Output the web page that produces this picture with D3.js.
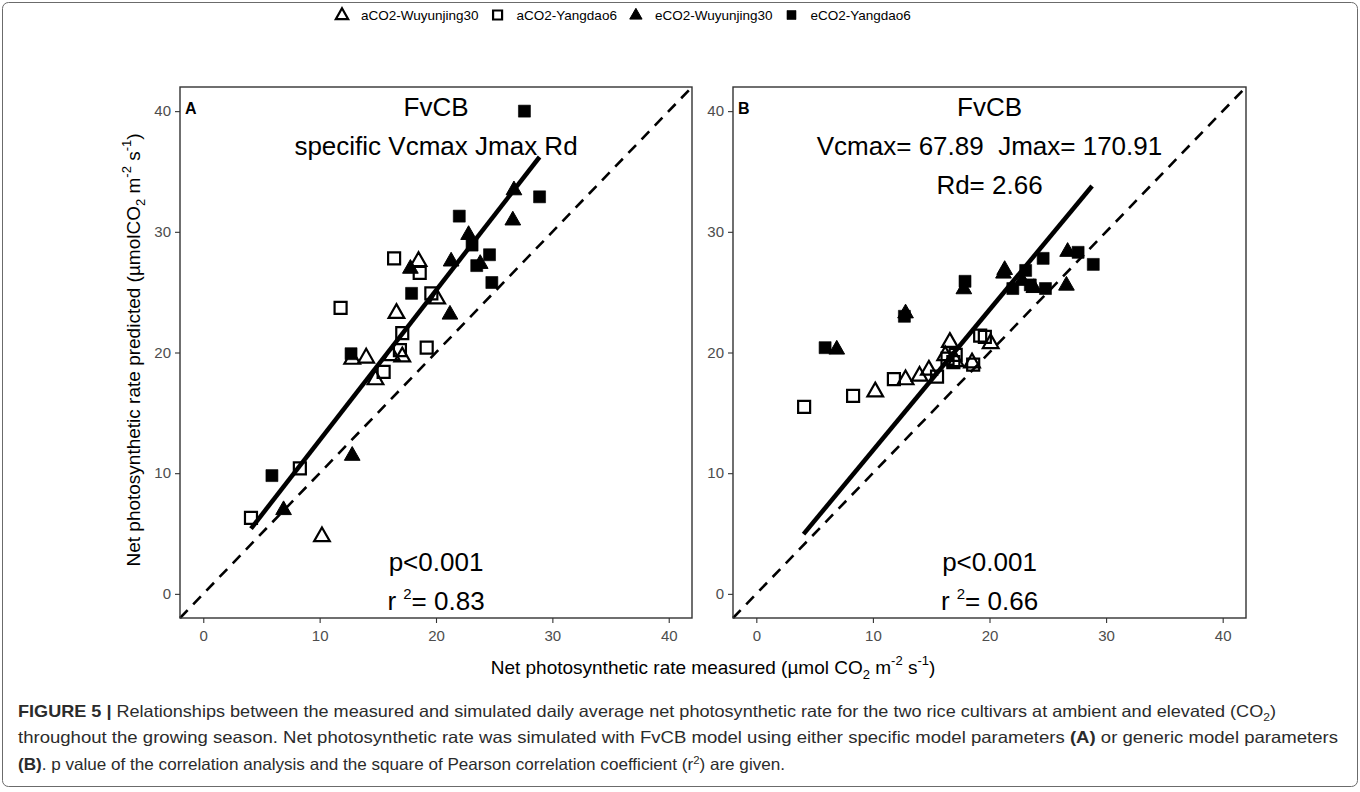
<!DOCTYPE html>
<html><head><meta charset="utf-8">
<script src="https://cdn.jsdelivr.net/npm/d3@7"></script>
<style>
body{margin:0;background:#fff}
svg{display:block}
text{font-family:"Liberation Sans",Arial,Helvetica,sans-serif}
</style>
</head><body>
<svg id="chart" width="1360" height="792"></svg>
<script>
// ---------------- data ----------------
const seriesNames = ["aCO2-Wuyunjing30", "aCO2-Yangdao6", "eCO2-Wuyunjing30", "eCO2-Yangdao6"];
const tickValues = [0, 10, 20, 30, 40];
const axisDomain = [-2, 42];

// measured net photosynthetic rate (x), same in both panels
const measuredAW = [18.5, 16.6, 20.1, 17.1, 16.2, 12.8, 14.0, 14.8, 10.2];
const measuredAY = [16.4, 18.6, 11.8, 19.6, 17.1, 16.9, 19.2, 15.5, 8.3, 4.1];
const measuredEW = [26.7, 26.6, 22.8, 21.3, 17.8, 23.8, 21.2, 12.8, 6.9];
const measuredEY = [27.6, 28.9, 22.0, 23.1, 24.6, 23.5, 24.8, 17.9, 12.7, 5.9];

// predicted, panel A (specific parameters)
const predictedA_AW = [27.6, 23.3, 24.5, 19.7, 19.8, 19.5, 19.6, 17.8, 4.8];
const predictedA_AY = [27.8, 26.6, 23.7, 24.9, 21.6, 20.2, 20.4, 18.4, 10.4, 6.3];
const predictedA_EW = [33.5, 31.0, 29.8, 27.6, 27.0, 27.4, 23.2, 11.5, 7.0];
const predictedA_EY = [40.0, 32.9, 31.3, 28.9, 28.1, 27.2, 25.8, 24.9, 19.9, 9.8];

// predicted, panel B (generic parameters)
const predictedB_AW = [19.2, 20.9, 20.8, 19.3, 19.8, 17.8, 18.1, 18.6, 16.8];
const predictedB_AY = [19.5, 19.0, 17.8, 21.3, 19.8, 19.2, 21.4, 18.0, 16.4, 15.5];
const predictedB_EW = [28.4, 25.6, 26.0, 26.9, 25.3, 25.4, 26.6, 23.3, 20.3];
const predictedB_EY = [28.3, 27.3, 25.3, 26.8, 27.8, 25.6, 25.3, 25.9, 23.0, 20.4];

// regression line end points
const fitA_x = [4.1, 28.9], fitA_y = [5.4, 36.2];
const fitB_x = [4.05, 28.8], fitB_y = [4.95, 33.8];

// annotation texts
const panelLabels = ["A", "B"];
const annotA = ["FvCB", "specific Vcmax Jmax Rd"];
const annotB = ["FvCB", "Vcmax= 67.89  Jmax= 170.91", "Rd= 2.66"];
const r2Values = ["0.83", "0.66"];

// ---------------- drawing ----------------
const svg = d3.select("#chart");
const FONT = '"Liberation Sans",Arial,Helvetica,sans-serif';

// outer frame
svg.append("rect").attr("x", 2.5).attr("y", 2.5).attr("width", 1355).attr("height", 784)
  .attr("rx", 6).attr("fill", "none").attr("stroke", "#6b6b6b").attr("stroke-width", 1);

const shapes = [
  {type: "tri", filled: false},
  {type: "sq", filled: false},
  {type: "tri", filled: true},
  {type: "sq", filled: true}
];

function shapePath(type, s) {
  if (type === "sq") {
    const h = s / 2;
    return `M${-h},${-h}H${h}V${h}H${-h}Z`;
  }
  const w = s * 1.12, h = s * 0.98;
  return `M0,${-h * 0.62}L${w / 2},${h * 0.38}L${-w / 2},${h * 0.38}Z`;
}

function drawMarker(g, shape, x, y, s) {
  g.append("path")
    .attr("d", shapePath(shape.type, s))
    .attr("transform", `translate(${x},${y})`)
    .attr("fill", shape.filled ? "#000" : "none")
    .attr("stroke", "#000")
    .attr("stroke-width", shape.filled ? (shape.type === "tri" ? 1 : 0.6) : 2.2)
    .attr("stroke-linejoin", "miter");
}

// legend
const legendG = svg.append("g");
let lx = 342;
seriesNames.forEach((name, i) => {
  drawMarker(legendG, shapes[i], lx, 15, shapes[i].type === "sq" ? 9 : 11);
  const t = legendG.append("text").attr("x", lx + 19).attr("y", 20)
    .attr("font-size", 13.5).attr("fill", "#000").text(name);
  lx += 19 + t.node().getComputedTextLength() + 19;
});

const panels = [
  {x0: 180, x1: 692, pred: [predictedA_AW, predictedA_AY, predictedA_EW, predictedA_EY],
   fx: fitA_x, fy: fitA_y, annot: annotA},
  {x0: 733, x1: 1246, pred: [predictedB_AW, predictedB_AY, predictedB_EW, predictedB_EY],
   fx: fitB_x, fy: fitB_y, annot: annotB}
];
const measured = [measuredAW, measuredAY, measuredEW, measuredEY];
const yTop = 87, yBot = 618;

panels.forEach((p, pi) => {
  const x = d3.scaleLinear().domain(axisDomain).range([p.x0, p.x1]);
  const y = d3.scaleLinear().domain(axisDomain).range([yBot, yTop]);
  const g = svg.append("g");

  // axes
  const xAxis = g.append("g").attr("transform", `translate(0,${yBot})`)
    .call(d3.axisBottom(x).tickValues(tickValues).tickSize(5).tickPadding(4));
  const yAxis = g.append("g").attr("transform", `translate(${p.x0},0)`)
    .call(d3.axisLeft(y).tickValues(tickValues).tickSize(5).tickPadding(4));
  [xAxis, yAxis].forEach(a => {
    a.select(".domain").remove();
    a.selectAll(".tick line").attr("stroke", "#333").attr("stroke-width", 1.1);
    a.selectAll(".tick text").attr("font-family", FONT).attr("font-size", 15).attr("fill", "#4d4d4d");
  });
  xAxis.selectAll(".tick text").attr("dy", "0.95em");

  // points
  const pts = g.append("g");
  measured.forEach((mx, si) => {
    mx.forEach((v, k) => {
      drawMarker(pts, shapes[si], x(v), y(p.pred[si][k]), shapes[si].type === "sq" ? 12 : 14);
    });
  });

  // 1:1 dashed line
  g.append("line")
    .attr("x1", x(axisDomain[0])).attr("y1", y(axisDomain[0]))
    .attr("x2", x(axisDomain[1])).attr("y2", y(axisDomain[1]))
    .attr("stroke", "#000").attr("stroke-width", 2.6).attr("stroke-dasharray", "11,8");

  // regression line
  g.append("line")
    .attr("x1", x(p.fx[0])).attr("y1", y(p.fy[0]))
    .attr("x2", x(p.fx[1])).attr("y2", y(p.fy[1]))
    .attr("stroke", "#000").attr("stroke-width", 4.5);

  // panel border
  g.append("rect").attr("x", p.x0).attr("y", yTop).attr("width", p.x1 - p.x0).attr("height", yBot - yTop)
    .attr("fill", "none").attr("stroke", "#333").attr("stroke-width", 1.4);

  // panel label
  g.append("text").attr("x", p.x0 + 5).attr("y", yTop + 27).attr("font-size", 16)
    .attr("font-weight", "bold").attr("fill", "#000").text(panelLabels[pi]);

  // annotations
  const cx = x(20);
  p.annot.forEach((t, k) => {
    g.append("text").attr("x", cx).attr("y", 116 + k * 39).attr("text-anchor", "middle")
      .attr("font-size", 26).attr("fill", "#000").style("white-space", "pre").text(t);
  });
  g.append("text").attr("x", cx).attr("y", 571).attr("text-anchor", "middle")
    .attr("font-size", 26).attr("fill", "#000").text("p<0.001");
  const r = g.append("text").attr("x", cx).attr("y", 610).attr("text-anchor", "middle")
    .attr("font-size", 26).attr("fill", "#000");
  r.append("tspan").text("r ");
  r.append("tspan").attr("font-size", 15).attr("dy", -11).text("2");
  r.append("tspan").attr("dy", 11).text("= " + r2Values[pi]);
});

// axis titles
const xt = svg.append("text").attr("x", 713).attr("y", 674).attr("text-anchor", "middle")
  .attr("font-size", 19).attr("fill", "#000");
xt.append("tspan").text("Net photosynthetic rate measured (\u00b5mol CO");
xt.append("tspan").attr("font-size", 13).attr("dy", 5).text("2");
xt.append("tspan").attr("dy", -5).text(" m");
xt.append("tspan").attr("font-size", 13).attr("dy", -9).text("-2");
xt.append("tspan").attr("dy", 9).text(" s");
xt.append("tspan").attr("font-size", 13).attr("dy", -9).text("-1");
xt.append("tspan").attr("dy", 9).text(")");

const yt = svg.append("text").attr("transform", "translate(140,350) rotate(-90)")
  .attr("text-anchor", "middle").attr("font-size", 19).attr("fill", "#000");
yt.append("tspan").text("Net photosynthetic rate predicted (\u00b5molCO");
yt.append("tspan").attr("font-size", 13).attr("dy", 5).text("2");
yt.append("tspan").attr("dy", -5).text(" m");
yt.append("tspan").attr("font-size", 13).attr("dy", -9).text("-2");
yt.append("tspan").attr("dy", 9).text(" s");
yt.append("tspan").attr("font-size", 13).attr("dy", -9).text("-1");
yt.append("tspan").attr("dy", 9).text(")");

// caption
const capColor = "#2b2b2b";
const c1 = svg.append("text").attr("x", 18).attr("y", 717).attr("font-size", 16.5).attr("fill", capColor)
  .attr("textLength", 1258).attr("lengthAdjust", "spacingAndGlyphs");
c1.append("tspan").attr("font-weight", "bold").text("FIGURE 5 |");
c1.append("tspan").text(" Relationships between the measured and simulated daily average net photosynthetic rate for the two rice cultivars at ambient and elevated (CO");
c1.append("tspan").attr("font-size", 11).attr("dy", 4).text("2");
c1.append("tspan").attr("dy", -4).text(")");

const c2 = svg.append("text").attr("x", 18).attr("y", 743).attr("font-size", 16.5).attr("fill", capColor)
  .attr("textLength", 1320).attr("lengthAdjust", "spacingAndGlyphs");
c2.append("tspan").text("throughout the growing season. Net photosynthetic rate was simulated with FvCB model using either specific model parameters ");
c2.append("tspan").attr("font-weight", "bold").text("(A)");
c2.append("tspan").text(" or generic model parameters");

const c3 = svg.append("text").attr("x", 18).attr("y", 770).attr("font-size", 16.5).attr("fill", capColor)
  .attr("textLength", 767).attr("lengthAdjust", "spacingAndGlyphs");
c3.append("tspan").attr("font-weight", "bold").text("(B)");
c3.append("tspan").text(". p value of the correlation analysis and the square of Pearson correlation coefficient (r");
c3.append("tspan").attr("font-size", 11).attr("dy", -6).text("2");
c3.append("tspan").attr("dy", 6).text(") are given.");
</script>
</body></html>
